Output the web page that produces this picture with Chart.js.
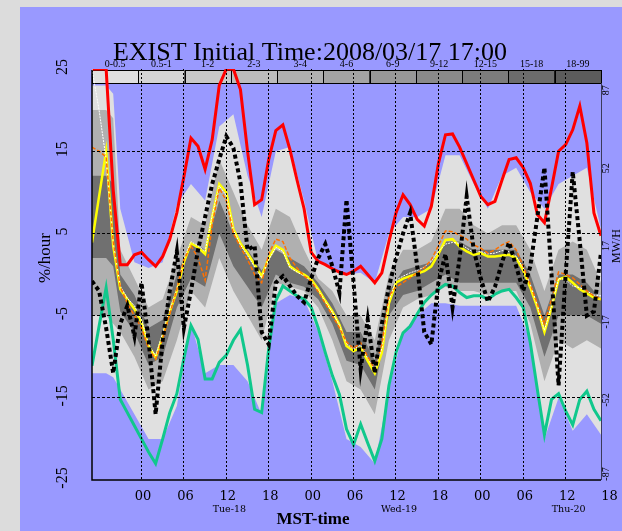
<!DOCTYPE html>
<html>
<head>
<meta charset="utf-8">
<title>EXIST Initial Time:2008/03/17 17:00</title>
<script src="https://cdn.jsdelivr.net/npm/chart.js@4.4.1/dist/chart.umd.min.js"></script>
<style>
  html, body { margin: 0; padding: 0; background: #dcdcdc; }
  canvas { display: block; }
</style>
</head>
<body>
<canvas id="fan" width="622" height="531"></canvas>
<script>
// hours since the initial time (Mon 2008/03/17 17:00 MST)
const hours = Array.from({ length: 73 }, (_, i) => i);

// ensemble upper / lower bound (%/hour)
const upperBound = [
  25, 25, 25, 10.3, 1.2, 1.2, 2.4, 2.7, 1.8, 1.0,
  2.2, 4.3, 7.5, 11.9, 16.6, 15.6, 12.8, 16.4, 23, 25,
  25, 22.5, 15, 8.5, 9.1, 14, 17.5, 18.2, 15.2, 11.5,
  8, 2.7, 1.6, 1.2, 0.7, 0.3, 0, 0.4, 1.0, 0,
  -1.0, 0.2, 4, 7.5, 9.7, 8.5, 6.7, 5.9, 8.3, 13.5,
  17, 17.1, 15.5, 13.5, 11.5, 9.5, 8.5, 8.9, 11.5, 14,
  14.2, 13, 11.1, 7.3, 6.3, 10.5, 15, 15.8, 17.6, 20.5,
  16, 7.5, 4.7
];
const lowerBound = [
  -11.1, -6.3, -1.6, -7.9, -15.2, -16.8, -18.4, -20, -21.6, -23,
  -20, -16.8, -14.5, -10.2, -6.2, -7.9, -12.7, -12.7, -10.7, -9.8,
  -8, -6.7, -11, -16.4, -16.8, -9, -3.2, -1.4, -2, -2.6,
  -3, -4, -6.5, -9.5, -12.3, -14.6, -18.8, -20.7, -18.2, -20.5,
  -22.7, -20, -13.5, -9.5, -7.1, -6.3, -4.8, -3.4, -2.5, -1.8,
  -1.2, -1.4, -2.2, -2.8, -2.6, -2.6, -3, -2.4, -2, -1.8,
  -2.8, -4, -8.3, -14, -19.5, -15.2, -14.5, -16.6, -18.3, -15.2,
  -14.2, -16.4, -17.8
];
// forecasts
const median = [
  3.9, 9.5, 15, 3.5, -1.8, -3, -4.2, -5.8, -8.7, -10.1,
  -7.5, -4.5, -2, 1.5, 3.8, 3.3, 2.5, 7, 11, 10,
  5.5, 3.8, 2.6, 1.2, -0.2, 2, 3.5, 3, 1, 0.4,
  0, -0.6, -1.8, -3.2, -4.5, -6.1, -8.7, -9.3, -8.9, -10.5,
  -12, -9.5, -3.5, -1, -0.5, -0.2, 0.1, 0.4, 1, 2.5,
  4.2, 4.3, 3.4, 2.8, 2.4, 2.6, 2.2, 2.2, 2.3, 2.4,
  2, 0.5, -1.6, -4, -7, -4, -0.6, -0.3, -1, -1.8,
  -2.3, -2.8, -3
];
const meanFcst = [
  15.5, 15, 14.3, 4, -1.5, -3.5, -5, -6.5, -9, -10.3,
  -7.8, -4.8, -1.8, 1.8, 3.5, 2, -0.7, 6, 10.5, 9,
  5, 3.3, 1.8, 0, -1, 2.5, 4.3, 4, 2, 0.8,
  -0.2, -0.8, -2.1, -3.5, -5, -6.5, -8.2, -9, -8.3, -10,
  -11.5, -8.5, -2.6, -1.5, -1, -0.4, 0.2, 0.8, 1.8, 3.5,
  5.3, 5.2, 4.8, 4.3, 3.6, 3.2, 2.6, 3, 3.6, 4,
  3, 1, -1.2, -3.6, -6, -3, 0.3, 0, -0.4, -1.2,
  -2, -2.6, -3
];
const controlFcst = [
  25, 20, 14, 3.8, -1.4, -2.9, -3.8, -5.5, -8.5, -9.9,
  -7.1, -4.2, -1.8, 1.9, 4, 3.5, 2.8, 7.2, 10.8, 9.6,
  5.4, 3.6, 2.3, 0.9, -0.4, 1.8, 3.3, 2.8, 0.8, 0.3,
  -0.2, -0.8, -1.9, -3.3, -4.6, -6.2, -8.4, -9.1, -8.6, -10.2,
  -11.6, -9, -3.2, -0.7, -0.2, 0.2, 0.5, 0.9, 1.6, 2.8,
  3.7, 3.9, 3.8, 3.2, 2.7, 2.8, 2.5, 2.6, 2.9, 2.8,
  2.2, 0.8, -1.2, -3.8, -6.8, -3.8, -0.5, -0.6, -1.4, -1.6,
  -2, -2.5, -2.6
];
const observed = [
  -0.8, -2, -6.5, -12, -6, -3.8, -7.5, -1, -8, -17,
  -8, -2, 2.8, -6.5, -2, 3, 7, 11, 14, 16.8,
  15.4, 11.2, 3, 3.5, -7, -8.5, -1, -0.2, -1.4, -2.6,
  -3.4, -0.5, 2, 3.7, 1, -2.2, 9.1, -1, -11.5, -5.5,
  -12, -6, -1.5, 2, 5, 7.5, 1, -7, -8.5, -1,
  2.5, -4, 2, 9.5, 3, -0.5, -3.3, -1.5, 1.5, 3.9,
  1, -2, 1, 7, 13, 0, -13.5, 0, 12.5, 4,
  -5, -4.5, 2.7
];

// density shading (probability bands), read every two hours
const bandHours = [0, 2, 3, 4, 6, 8, 10, 12, 14, 16, 18, 20, 22, 24, 26, 28, 30, 32, 34, 36, 38,
  40, 42, 44, 46, 48, 50, 52, 54, 56, 58, 60, 62, 64, 66, 68, 70, 72];
const outerUpper = [23, 23, 22, 8, 1.5, 0.8, 1.5, 8.5, 11, 9, 18, 19.5, 12, 7, 15, 15.5, 9, 1.5, 0.8, 0, 0.2,
  -1, 5, 7, 7, 8, 14.5, 14.5, 11, 8, 12, 13, 10, 8, 11, 12, 13, 5.5];
const outerLower = [-12, -12, -12.5, -14, -17, -20, -20, -16, -6, -12, -11, -11, -13, -17, -3.5, -2.5, -3, -7, -13, -20, -21,
  -23, -14, -7, -5, -3.5, -3.5, -3.8, -3.8, -3.8, -3.8, -3.8, -8, -20, -15, -19, -17, -19.5];
const midUpper = [20, 20, 19, 3, -0.5, -4, -3, 2, 7, 6, 14, 10, 6, 3, 8, 7, 3, -0.5, -2, -5, -5,
  -8, 0, 3, 3, 4, 8, 8, 6, 5, 6, 6, 3, -2, 3, 4, 3, -1];
const midLower = [-5, -5, -6, -7, -10, -14, -13, -8, -2, -4, 2, -2, -5, -8, -1, -1.5, -2, -4, -8, -13, -14,
  -17, -8, -4, -3, -2.5, -1.5, -2, -2, -2.5, -2, -2, -6, -13, -8, -9, -8, -9];
const darkUpper = [12, 12, 11, 0, -2.5, -6.5, -5.5, 0, 4, 3, 9, 5, 3, 0.5, 3, 2, 1, -1, -3.5, -7, -7,
  -10.5, -2, 0.5, 1, 1.5, 4, 4, 3, 3, 3, 3, 0, -5, 0, 0, -1, -3];
const darkLower = [2, 2, 1, -4.5, -7, -11, -10, -4, -0.5, -1.5, 5, 1, -1.5, -4, 0, -1, -1.5, -3, -6, -10.5, -11,
  -14, -5, -2.5, -2, -1, 0, -1, -1, -1, -1, -1, -4, -10, -5, -5, -5, -6];

// axes
const yTicks = [-25, -15, -5, 5, 15, 25];
const mwTicks = [87, 52, 17, -17, -52, -87];
const xTickHours = [7, 13, 19, 25, 31, 37, 43, 49, 55, 61, 67, 73];
const xTickLabels = ["00", "06", "12", "18", "00", "06", "12", "18", "00", "06", "12", "18"];
const dayHours = [19, 43, 67];
const dayLabels = ["Tue-18", "Wed-19", "Thu-20"];
const classLabels = ["0-0.5", "0.5-1", "1-2", "2-3", "3-4", "4-6", "6-9", "9-12", "12-15", "15-18", "18-99"];
const classColors = ["#e0e0e0", "#d4d4d4", "#c8c8c8", "#bcbcbc", "#b0b0b0", "#a4a4a4",
  "#989898", "#8a8a8a", "#7c7c7c", "#6c6c6c", "#5c5c5c"];

const band = (arr) => arr.map((v, i) => ({ x: bandHours[i], y: v }));

const serif = '"Liberation Serif", "Times New Roman", serif';

const backdrop = {
  id: "backdrop",
  beforeDraw(chart) {
    const { ctx, chartArea: a } = chart;
    ctx.save();
    ctx.fillStyle = "#dcdcdc";
    ctx.fillRect(0, 0, chart.width, chart.height);
    ctx.fillStyle = "#9999ff";
    ctx.fillRect(20, 7, chart.width - 20, chart.height - 7);

    // class strip across the top of the plot
    const w = (a.right - a.left) / classLabels.length;
    ctx.lineWidth = 1;
    ctx.strokeStyle = "#000";
    ctx.font = "10px " + serif;
    ctx.textAlign = "center";
    ctx.textBaseline = "alphabetic";
    classLabels.forEach((lab, i) => {
      const x0 = a.left + i * w;
      ctx.fillStyle = classColors[i];
      ctx.fillRect(x0, a.top + 1, w, 13);
      ctx.strokeRect(Math.round(x0) + 0.5, a.top + 1.5, Math.round(w), 13);
      ctx.fillStyle = "#000";
      ctx.fillText(lab, x0 + w / 2, a.top - 2);
    });
    ctx.restore();
  },
};

const frameAndText = {
  id: "frameAndText",
  afterDraw(chart) {
    const { ctx, chartArea: a, scales } = chart;
    ctx.save();
    // frame
    ctx.strokeStyle = "#000";
    ctx.lineWidth = 1.5;
    ctx.beginPath();
    ctx.moveTo(a.left, a.top + 1);
    ctx.lineTo(a.left, a.bottom);
    ctx.lineTo(a.right, a.bottom);
    ctx.stroke();
    ctx.strokeStyle = "#3a3a5a";
    ctx.lineWidth = 1;
    ctx.beginPath();
    ctx.moveTo(a.right + 0.5, a.top + 14);
    ctx.lineTo(a.right + 0.5, a.bottom);
    ctx.stroke();

    ctx.fillStyle = "#000";
    // title
    ctx.font = "26px " + serif;
    ctx.textAlign = "center";
    ctx.textBaseline = "alphabetic";
    ctx.fillText("EXIST Initial Time:2008/03/17 17:00", 310, 60);

    // x tick labels and days
    ctx.font = '13px "DejaVu Serif", serif';
    ctx.textBaseline = "middle";
    xTickHours.forEach((h, i) => {
      ctx.fillText(xTickLabels[i], scales.x.getPixelForValue(h) + 1.5, 497);
    });
    ctx.font = '9.5px "DejaVu Serif", serif';
    dayHours.forEach((h, i) => {
      ctx.fillText(dayLabels[i], scales.x.getPixelForValue(h) + 3, 510);
    });
    ctx.font = "bold 17px " + serif;
    ctx.textBaseline = "alphabetic";
    ctx.fillText("MST-time", 313, 524);

    // rotated y labels
    const vtext = (txt, x, y, font) => {
      ctx.save();
      ctx.translate(x, y);
      ctx.rotate(-Math.PI / 2);
      ctx.font = font;
      ctx.textAlign = "center";
      ctx.textBaseline = "middle";
      ctx.fillText(txt, 0, 0);
      ctx.restore();
    };
    yTicks.forEach((v) => vtext(String(v), 62.5, scales.y.getPixelForValue(v) - 2, "16px " + serif));
    mwTicks.forEach((v) => {
      const y = Math.min(scales.y2.getPixelForValue(v), a.bottom - 6);
      vtext(String(v), 606, y, "10px " + serif);
    });
    vtext("%/hour", 46, 258, "17px " + serif);
    vtext("MW/H", 617, 246, "12px " + serif);
    ctx.restore();
  },
};

const line = (data, color, width, dash, order) => ({
  data,
  borderColor: color,
  borderWidth: width,
  borderDash: dash,
  pointRadius: 0,
  fill: false,
  tension: 0,
  order,
});
const shade = (data, color, order, fillTo) => ({
  data,
  borderWidth: 0,
  borderColor: "rgba(0,0,0,0)",
  backgroundColor: color,
  pointRadius: 0,
  fill: fillTo,
  tension: 0,
  order,
});

new Chart(document.getElementById("fan"), {
  type: "line",
  data: {
    labels: hours,
    datasets: [
      shade(band(outerUpper), "#e0e0e0", 10, "+1"),
      shade(band(outerLower), "#e0e0e0", 10, false),
      shade(band(midUpper), "#b0b0b0", 9, "+1"),
      shade(band(midLower), "#b0b0b0", 9, false),
      shade(band(darkUpper), "#707070", 8, "+1"),
      shade(band(darkLower), "#707070", 8, false),
      line(lowerBound, "#10c88c", 3, [], 6),
      line(upperBound, "#ff0000", 3, [], 5),
      line(median, "#ffff00", 2.5, [], 4),
      line(controlFcst, "#ffffff", 1, [2, 1], 3),
      line(meanFcst, "#ff7000", 1.5, [4, 2], 2),
      line(observed, "#000000", 4, [4, 3], 1),
    ],
  },
  options: {
    responsive: false,
    animation: false,
    events: [],
    layout: { padding: { left: 92, right: 21, top: 69, bottom: 51 } },
    plugins: { legend: { display: false }, tooltip: { enabled: false } },
    scales: {
      x: {
        type: "linear",
        min: 0,
        max: 72,
        afterBuildTicks: (scale) => {
          scale.ticks = xTickHours.filter((h) => h < 72).map((h) => ({ value: h }));
        },
        ticks: { display: false },
        grid: { color: "#000", lineWidth: 1, drawTicks: false, z: 1 },
        border: { display: false, dash: [2, 2] },
      },
      y: {
        min: -25,
        max: 25,
        afterBuildTicks: (scale) => {
          scale.ticks = yTicks.map((v) => ({ value: v }));
        },
        ticks: { display: false },
        grid: {
          color: (c) => (c.tick && Math.abs(c.tick.value) === 25 ? "rgba(0,0,0,0)" : "#000"),
          lineWidth: 1,
          drawTicks: false,
          z: 1,
        },
        border: { display: false, dash: [3, 2] },
      },
      y2: {
        display: false,
        position: "right",
        min: -88,
        max: 96.5,
      },
    },
  },
  plugins: [backdrop, frameAndText],
});
</script>
</body>
</html>
